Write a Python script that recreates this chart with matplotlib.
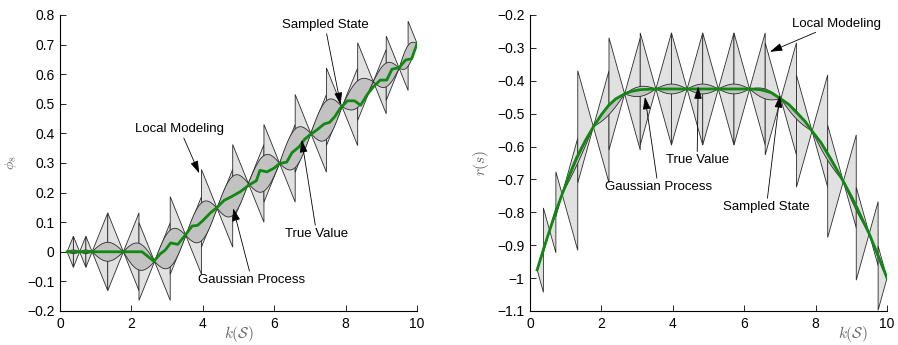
import numpy as np
import matplotlib
matplotlib.use('Agg')
import matplotlib.pyplot as plt
from matplotlib.ticker import FuncFormatter

plt.rcParams['font.family'] = ['Liberation Sans', 'DejaVu Sans']
plt.rcParams['mathtext.fontset'] = 'cm'

# sampled states (shared by both panels)
knots = [0.2, 0.55, 0.9, 1.775, 2.65, 3.525, 4.4, 5.275, 6.15, 7.025, 7.9, 8.775, 9.5, 10.0]

# left panel: phi_8
phi_knots = [0.0, 0.0, 0.0, 0.0, -0.033, 0.055, 0.147, 0.231, 0.299, 0.40, 0.49, 0.575, 0.62, 0.704]
phi_gp_width = [0.006, 0.006, 0.032, 0.045, 0.062, 0.064, 0.066, 0.06, 0.065, 0.065, 0.045, 0.04, 0.035]
phi_lipschitz = 0.3
phi_true_x = [0.2, 2.3, 2.63, 2.8, 2.95, 3.1, 3.3, 3.5, 3.7, 3.85, 4.0, 4.2, 4.4, 4.6, 4.8,
              5.05, 5.3, 5.5, 5.6, 5.8, 6.0, 6.15, 6.35, 6.5, 6.7, 6.85, 7.0, 7.2, 7.4,
              7.55, 7.7, 7.85, 8.05, 8.25, 8.42, 8.6, 8.78, 8.97, 9.15, 9.3, 9.5, 9.68,
              9.85, 10.0]
phi_true_y = [0.0, 0.0, -0.032, -0.008, 0.006, 0.03, 0.025, 0.055, 0.087, 0.089, 0.105,
              0.13, 0.15, 0.174, 0.186, 0.203, 0.226, 0.24, 0.275, 0.27, 0.283, 0.298,
              0.303, 0.335, 0.355, 0.38, 0.395, 0.412, 0.432, 0.437, 0.457, 0.485, 0.51,
              0.51, 0.495, 0.53, 0.558, 0.58, 0.58, 0.617, 0.622, 0.648, 0.652, 0.703]

# right panel: r(s)
r_knots = [-0.975, -0.855, -0.745, -0.54, -0.44, -0.425, -0.425, -0.425, -0.425, -0.455,
           -0.553, -0.706, -0.865, -1.0]
r_gp_width = [0.004, 0.004, 0.008, 0.013, 0.015, 0.015, 0.015, 0.015, 0.015, 0.012, 0.012,
              0.008, 0.006]
r_lipschitz = 0.39
r_true_x = [0.2, 0.4, 0.55, 0.7, 0.9, 1.1, 1.3, 1.55, 1.775, 2.0, 2.2, 2.4, 2.65, 2.85,
            3.1, 3.5, 6.2, 6.45, 6.75, 7.025, 7.25, 7.45, 7.7, 7.9, 8.15, 8.35, 8.55,
            8.775, 9.0, 9.15, 9.3, 9.5, 9.75, 10.0]
r_true_y = [-0.975, -0.905, -0.855, -0.805, -0.745, -0.688, -0.635, -0.582, -0.54, -0.503,
            -0.475, -0.455, -0.44, -0.432, -0.427, -0.425, -0.425, -0.427, -0.436, -0.455,
            -0.472, -0.495, -0.523, -0.553, -0.588, -0.625, -0.662, -0.706, -0.752,
            -0.785, -0.82, -0.865, -0.932, -1.0]

LIGHT = '#e1e1e1'
DARK = '#c2c2c2'
EDGE = '#2b2b2b'
GREEN = '#118811'


def draw_panel(ax, k, f, widths, L, tx, ty):
    k = np.asarray(k)
    f = np.asarray(f)
    # local (Lipschitz) model: a double cone in each knot's cell
    mids = (k[1:] + k[:-1]) / 2
    lo_edge = np.concatenate([[k[0]], mids])
    hi_edge = np.concatenate([mids, [k[-1]]])
    for ki, fi, a, b in zip(k, f, lo_edge, hi_edge):
        px = [a, ki, b, b, ki, a]
        py = [fi + L * (ki - a), fi, fi + L * (b - ki),
              fi - L * (b - ki), fi, fi - L * (ki - a)]
        ax.fill(px, py, facecolor=LIGHT, edgecolor=EDGE, lw=0.6, zorder=1)
    # gaussian process band between knots
    for i in range(len(k) - 1):
        t = np.linspace(0, 1, 40)
        x = k[i] + (k[i + 1] - k[i]) * t
        m = f[i] + (f[i + 1] - f[i]) * t
        s = widths[i] * np.sin(np.pi * t)
        ax.fill_between(x, m - s, m + s, facecolor=DARK, edgecolor='none', zorder=2)
        ax.plot(x, m + s, color=EDGE, lw=0.6, zorder=3)
        ax.plot(x, m - s, color=EDGE, lw=0.6, zorder=3)
    ax.plot(tx, ty, color=GREEN, lw=2.0, zorder=4, solid_joinstyle='round')


def style_axes(ax, ylim, yticks):
    ax.set_xlim(0, 10)
    ax.set_ylim(*ylim)
    ax.set_xticks([0, 2, 4, 6, 8, 10])
    ax.set_yticks(yticks)
    ax.yaxis.set_major_formatter(FuncFormatter(lambda v, p: ('%g' % round(v, 2)).replace('-', '\u2212')))
    ax.spines['top'].set_visible(False)
    ax.spines['right'].set_visible(False)
    ax.tick_params(direction='in', length=4, width=0.6, labelsize=10, pad=4)
    for s in ('left', 'bottom'):
        ax.spines[s].set_linewidth(0.8)


def note(ax, text, xy, xytext):
    ax.annotate(text, xy=xy, xytext=xytext, ha='center', va='center', fontsize=9.5,
                arrowprops=dict(arrowstyle='-|>,head_length=0.8,head_width=0.25',
                                color='k', lw=0.6, shrinkA=0, shrinkB=0),
                zorder=5)


fig = plt.figure(figsize=(8.98, 3.45), dpi=100)
ax1 = fig.add_axes([0.0668, 0.0986, 0.3976, 0.858])
ax2 = fig.add_axes([0.5902, 0.0986, 0.3976, 0.858])

draw_panel(ax1, knots, phi_knots, phi_gp_width, phi_lipschitz, phi_true_x, phi_true_y)
style_axes(ax1, (-0.2, 0.8), np.round(np.arange(-0.2, 0.81, 0.1), 2))
ax1.set_ylabel(r'$\phi_8$', color='#666666', fontsize=10, labelpad=6)
ax1.set_xlabel(r'$k(\mathcal{S})$', color='#666666', fontsize=11)
ax1.xaxis.set_label_coords(0.5, -0.045)
note(ax1, 'Sampled State', (7.86, 0.496), (7.42, 0.766))
note(ax1, 'Local Modeling', (3.9, 0.265), (3.36, 0.414))
note(ax1, 'Gaussian Process', (4.85, 0.147), (5.37, -0.095))
note(ax1, 'True Value', (6.77, 0.378), (7.19, 0.06))

draw_panel(ax2, knots, r_knots, r_gp_width, r_lipschitz, r_true_x, r_true_y)
style_axes(ax2, (-1.1, -0.2), np.round(np.arange(-1.1, -0.19, 0.1), 2))
ax2.set_ylabel(r'$r(s)$', color='#666666', fontsize=11, labelpad=4)
ax2.set_xlabel(r'$k(\mathcal{S})$', color='#666666', fontsize=11)
ax2.xaxis.set_label_coords(0.905, -0.045)
note(ax2, 'Local Modeling', (6.72, -0.312), (8.58, -0.226))
note(ax2, 'True Value', (4.71, -0.417), (4.68, -0.642))
note(ax2, 'Gaussian Process', (3.22, -0.449), (3.59, -0.723))
note(ax2, 'Sampled State', (7.0, -0.444), (6.62, -0.784))

fig.savefig('out.png', dpi=100)
